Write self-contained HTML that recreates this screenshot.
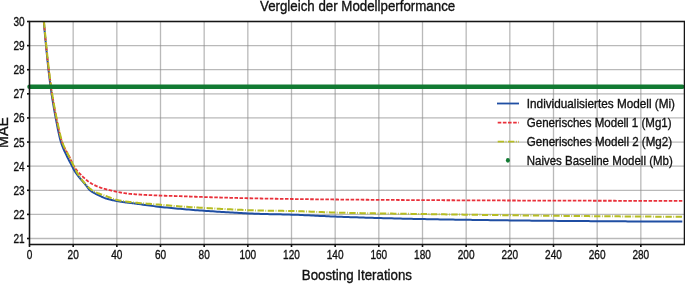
<!DOCTYPE html>
<html><head><meta charset="utf-8"><style>
html,body{margin:0;padding:0;background:#fff;width:685px;height:284px;overflow:hidden}
svg{display:block}
svg{will-change:transform}
text{font-family:"Liberation Sans", sans-serif;stroke:#111;stroke-width:0.35px}
</style></head><body>
<svg width="685" height="284" viewBox="0 0 685 284" font-family='"Liberation Sans", sans-serif'>
<defs><clipPath id="ax"><rect x="29.5" y="21.5" width="655.0" height="223.0"/></clipPath></defs>
<rect width="685" height="284" fill="#fff"/>
<g stroke="#8a8a8a" stroke-opacity="0.6" stroke-width="1.3" fill="none"><line x1="73.17" y1="21.5" x2="73.17" y2="244.5"/><line x1="116.83" y1="21.5" x2="116.83" y2="244.5"/><line x1="160.50" y1="21.5" x2="160.50" y2="244.5"/><line x1="204.17" y1="21.5" x2="204.17" y2="244.5"/><line x1="247.83" y1="21.5" x2="247.83" y2="244.5"/><line x1="291.50" y1="21.5" x2="291.50" y2="244.5"/><line x1="335.17" y1="21.5" x2="335.17" y2="244.5"/><line x1="378.83" y1="21.5" x2="378.83" y2="244.5"/><line x1="422.50" y1="21.5" x2="422.50" y2="244.5"/><line x1="466.17" y1="21.5" x2="466.17" y2="244.5"/><line x1="509.83" y1="21.5" x2="509.83" y2="244.5"/><line x1="553.50" y1="21.5" x2="553.50" y2="244.5"/><line x1="597.17" y1="21.5" x2="597.17" y2="244.5"/><line x1="640.83" y1="21.5" x2="640.83" y2="244.5"/><line x1="29.5" y1="238.50" x2="684.5" y2="238.50"/><line x1="29.5" y1="214.39" x2="684.5" y2="214.39"/><line x1="29.5" y1="190.28" x2="684.5" y2="190.28"/><line x1="29.5" y1="166.17" x2="684.5" y2="166.17"/><line x1="29.5" y1="142.06" x2="684.5" y2="142.06"/><line x1="29.5" y1="117.94" x2="684.5" y2="117.94"/><line x1="29.5" y1="93.83" x2="684.5" y2="93.83"/><line x1="29.5" y1="69.72" x2="684.5" y2="69.72"/><line x1="29.5" y1="45.61" x2="684.5" y2="45.61"/></g>
<g clip-path="url(#ax)" fill="none" stroke-linejoin="round">
<path d="M40.96,-13.75 L41.51,-6.25 L42.05,0.76 L42.60,7.41 L43.15,13.85 L43.69,20.22 L44.24,26.55 L44.78,32.64 L45.33,38.54 L45.88,44.26 L46.42,49.86 L46.97,55.37 L47.51,60.71 L48.06,65.83 L48.60,70.67 L49.15,75.29 L49.70,79.76 L50.24,84.05 L50.79,88.15 L51.33,92.04 L51.88,95.73 L52.42,99.25 L52.97,102.65 L53.52,105.92 L54.06,109.07 L54.61,112.12 L55.15,115.07 L55.70,117.94 L56.25,120.79 L56.79,123.63 L57.34,126.44 L57.88,129.20 L58.43,131.86 L58.98,134.40 L59.52,136.78 L60.07,138.99 L60.61,140.98 L61.16,142.73 L61.70,144.34 L62.25,145.84 L62.80,147.23 L63.34,148.55 L63.89,149.80 L64.43,151.00 L64.98,152.16 L65.53,153.30 L66.07,154.44 L66.62,155.58 L67.16,156.73 L67.71,157.84 L68.25,158.92 L68.80,159.98 L69.35,161.01 L69.89,162.04 L70.44,163.06 L70.98,164.08 L71.53,165.11 L72.08,166.17 L72.62,167.27 L73.17,168.40 L73.71,169.46 L74.26,170.38 L74.80,171.24 L75.35,172.08 L75.90,172.88 L76.44,173.66 L76.99,174.42 L77.53,175.15 L78.08,175.87 L78.62,176.57 L79.17,177.25 L79.72,177.92 L80.26,178.58 L80.81,179.23 L81.35,179.87 L81.90,180.51 L82.45,181.15 L82.99,181.79 L83.54,182.43 L84.08,183.07 L84.63,183.72 L85.17,184.38 L85.72,185.05 L86.27,185.73 L86.81,186.45 L87.36,187.19 L87.90,187.93 L88.45,188.64 L89.00,189.30 L89.54,189.88 L90.09,190.37 L90.63,190.80 L91.18,191.20 L91.72,191.58 L92.27,191.93 L92.82,192.27 L93.36,192.59 L93.91,192.89 L94.45,193.18 L95.00,193.47 L95.55,193.74 L96.09,194.02 L96.64,194.29 L97.18,194.56 L97.73,194.84 L98.28,195.12 L98.82,195.39 L99.37,195.67 L99.91,195.94 L100.46,196.20 L101.00,196.46 L101.55,196.72 L102.10,196.97 L102.64,197.21 L103.19,197.44 L103.73,197.66 L104.28,197.88 L104.83,198.08 L105.37,198.27 L105.92,198.44 L106.46,198.61 L107.01,198.77 L107.55,198.92 L108.10,199.07 L108.65,199.22 L109.19,199.37 L109.74,199.51 L110.28,199.64 L110.83,199.78 L111.38,199.91 L111.92,200.03 L112.47,200.16 L113.01,200.28 L113.56,200.39 L114.10,200.51 L114.65,200.62 L115.20,200.73 L115.74,200.83 L116.29,200.94 L116.83,201.04 L117.38,201.14 L117.92,201.24 L118.47,201.33 L119.02,201.43 L119.56,201.52 L120.11,201.61 L120.65,201.70 L121.20,201.78 L121.75,201.87 L122.29,201.95 L122.84,202.03 L123.38,202.10 L123.93,202.18 L124.47,202.25 L125.02,202.32 L125.57,202.39 L126.11,202.46 L126.66,202.53 L127.20,202.60 L127.75,202.66 L128.30,202.73 L128.84,202.79 L129.39,202.86 L129.93,202.92 L130.48,202.99 L131.03,203.05 L131.57,203.12 L132.12,203.18 L132.66,203.25 L133.21,203.32 L133.75,203.38 L134.30,203.45 L134.85,203.52 L135.39,203.60 L135.94,203.67 L136.48,203.74 L137.03,203.81 L137.57,203.89 L138.12,203.96 L138.67,204.04 L140.85,204.33 L143.03,204.64 L145.22,204.94 L147.40,205.24 L149.58,205.54 L151.77,205.83 L153.95,206.12 L156.13,206.40 L158.32,206.66 L160.50,206.91 L162.68,207.15 L164.87,207.39 L167.05,207.61 L169.23,207.83 L171.42,208.04 L173.60,208.25 L175.78,208.45 L177.97,208.65 L180.15,208.84 L182.33,209.04 L184.52,209.23 L186.70,209.41 L188.88,209.60 L191.07,209.78 L193.25,209.96 L195.43,210.13 L197.62,210.30 L199.80,210.46 L201.98,210.62 L204.17,210.77 L206.35,210.92 L208.53,211.07 L210.72,211.22 L212.90,211.36 L215.08,211.51 L217.27,211.65 L219.45,211.80 L221.63,211.94 L223.82,212.08 L226.00,212.22 L228.18,212.35 L230.37,212.49 L232.55,212.62 L234.73,212.75 L236.92,212.87 L239.10,212.99 L241.28,213.11 L243.47,213.22 L245.65,213.33 L247.83,213.43 L250.02,213.53 L252.20,213.62 L254.38,213.71 L256.57,213.79 L258.75,213.86 L260.93,213.93 L263.12,214.00 L265.30,214.05 L267.48,214.10 L269.67,214.15 L271.85,214.20 L274.03,214.24 L276.22,214.28 L278.40,214.33 L280.58,214.37 L282.77,214.41 L284.95,214.46 L287.13,214.51 L289.32,214.57 L291.50,214.63 L293.68,214.70 L295.87,214.77 L298.05,214.86 L300.23,214.95 L302.42,215.04 L304.60,215.14 L306.78,215.24 L308.97,215.35 L311.15,215.45 L313.33,215.56 L315.52,215.68 L317.70,215.79 L319.88,215.90 L322.07,216.01 L324.25,216.12 L326.43,216.23 L328.62,216.33 L330.80,216.43 L332.98,216.53 L335.17,216.62 L337.35,216.71 L339.53,216.78 L341.72,216.86 L343.90,216.93 L346.08,217.01 L348.27,217.08 L350.45,217.15 L352.63,217.22 L354.82,217.29 L357.00,217.36 L359.18,217.43 L361.37,217.50 L363.55,217.57 L365.73,217.64 L367.92,217.70 L370.10,217.77 L372.28,217.83 L374.47,217.89 L376.65,217.96 L378.83,218.02 L381.02,218.08 L383.20,218.14 L385.38,218.20 L387.57,218.26 L389.75,218.32 L391.93,218.37 L394.12,218.43 L396.30,218.48 L398.48,218.54 L400.67,218.59 L402.85,218.64 L405.03,218.69 L407.22,218.74 L409.40,218.79 L411.58,218.84 L413.77,218.89 L415.95,218.94 L418.13,218.98 L420.32,219.02 L422.50,219.07 L424.68,219.11 L426.87,219.15 L429.05,219.19 L431.23,219.23 L433.42,219.27 L435.60,219.31 L437.78,219.35 L439.97,219.38 L442.15,219.42 L444.33,219.46 L446.52,219.49 L448.70,219.53 L450.88,219.57 L453.07,219.60 L455.25,219.64 L457.43,219.67 L459.62,219.71 L461.80,219.74 L463.98,219.77 L466.17,219.81 L468.35,219.84 L470.53,219.87 L472.72,219.90 L474.90,219.94 L477.08,219.97 L479.27,220.00 L481.45,220.03 L483.63,220.06 L485.82,220.09 L488.00,220.12 L490.18,220.15 L492.37,220.18 L494.55,220.21 L496.73,220.24 L498.92,220.26 L501.10,220.29 L503.28,220.32 L505.47,220.35 L507.65,220.37 L509.83,220.40 L512.02,220.42 L514.20,220.45 L516.38,220.48 L518.57,220.50 L520.75,220.52 L522.93,220.55 L525.12,220.57 L527.30,220.60 L529.48,220.62 L531.67,220.64 L533.85,220.66 L536.03,220.68 L538.22,220.71 L540.40,220.73 L542.58,220.75 L544.77,220.77 L546.95,220.79 L549.13,220.81 L551.32,220.83 L553.50,220.85 L555.68,220.86 L557.87,220.88 L560.05,220.90 L562.23,220.92 L564.42,220.94 L566.60,220.95 L568.78,220.97 L570.97,220.99 L573.15,221.01 L575.33,221.02 L577.52,221.04 L579.70,221.06 L581.88,221.07 L584.07,221.09 L586.25,221.11 L588.43,221.12 L590.62,221.14 L592.80,221.15 L594.98,221.17 L597.17,221.19 L599.35,221.20 L601.53,221.22 L603.72,221.23 L605.90,221.25 L608.08,221.26 L610.27,221.28 L612.45,221.29 L614.63,221.31 L616.82,221.32 L619.00,221.33 L621.18,221.35 L623.37,221.36 L625.55,221.37 L627.73,221.39 L629.92,221.40 L632.10,221.41 L634.28,221.42 L636.47,221.44 L638.65,221.45 L640.83,221.46 L643.02,221.47 L645.20,221.48 L647.38,221.49 L649.57,221.50 L651.75,221.51 L653.93,221.52 L656.12,221.53 L658.30,221.54 L660.48,221.55 L662.67,221.56 L664.85,221.57 L667.03,221.58 L669.22,221.58 L671.40,221.59 L673.58,221.60 L675.77,221.60 L677.95,221.61 L680.13,221.62 L682.32,221.62" stroke="#1f4ea3" stroke-width="2"/>
<path d="M41.51,-8.27 L42.05,-1.03 L42.60,5.84 L43.15,12.46 L43.69,18.93 L44.24,25.30 L44.78,31.42 L45.33,37.30 L45.88,42.96 L46.42,48.45 L46.97,53.84 L47.51,59.06 L48.06,64.07 L48.60,68.81 L49.15,73.29 L49.70,77.61 L50.24,81.76 L50.79,85.73 L51.33,89.53 L51.88,93.14 L52.42,96.57 L52.97,99.87 L53.52,103.05 L54.06,106.12 L54.61,109.08 L55.15,111.95 L55.70,114.73 L56.25,117.42 L56.79,120.06 L57.34,122.72 L57.88,125.36 L58.43,127.96 L58.98,130.49 L59.52,132.92 L60.07,135.22 L60.61,137.37 L61.16,139.35 L61.70,141.11 L62.25,142.65 L62.80,144.04 L63.34,145.33 L63.89,146.52 L64.43,147.64 L64.98,148.70 L65.53,149.70 L66.07,150.68 L66.62,151.64 L67.16,152.60 L67.71,153.57 L68.25,154.57 L68.80,155.61 L69.35,156.70 L69.89,157.84 L70.44,159.01 L70.98,160.19 L71.53,161.38 L72.08,162.54 L72.62,163.68 L73.17,164.78 L73.71,165.83 L74.26,166.80 L74.80,167.69 L75.35,168.49 L75.90,169.24 L76.44,169.95 L76.99,170.61 L77.53,171.23 L78.08,171.84 L78.62,172.42 L79.17,173.00 L79.72,173.58 L80.26,174.15 L80.81,174.72 L81.35,175.27 L81.90,175.82 L82.45,176.36 L82.99,176.90 L83.54,177.42 L84.08,177.93 L84.63,178.43 L85.17,178.92 L85.72,179.40 L86.27,179.86 L86.81,180.32 L87.36,180.75 L87.90,181.18 L88.45,181.58 L89.00,181.97 L89.54,182.35 L90.09,182.71 L90.63,183.04 L91.18,183.37 L91.72,183.69 L92.27,183.99 L92.82,184.29 L93.36,184.58 L93.91,184.86 L94.45,185.13 L95.00,185.39 L95.55,185.65 L96.09,185.90 L96.64,186.14 L97.18,186.37 L97.73,186.60 L98.28,186.81 L98.82,187.03 L99.37,187.23 L99.91,187.43 L100.46,187.63 L101.00,187.81 L101.55,187.99 L102.10,188.17 L102.64,188.33 L103.19,188.50 L103.73,188.65 L104.28,188.81 L104.83,188.95 L105.37,189.10 L105.92,189.24 L106.46,189.38 L107.01,189.52 L107.55,189.66 L108.10,189.80 L108.65,189.93 L109.19,190.07 L109.74,190.20 L110.28,190.33 L110.83,190.47 L111.38,190.60 L111.92,190.72 L112.47,190.85 L113.01,190.98 L113.56,191.10 L114.10,191.22 L114.65,191.34 L115.20,191.46 L115.74,191.57 L116.29,191.68 L116.83,191.79 L117.38,191.90 L117.92,192.01 L118.47,192.11 L119.02,192.21 L119.56,192.30 L120.11,192.40 L120.65,192.50 L121.20,192.59 L121.75,192.69 L122.29,192.78 L122.84,192.88 L123.38,192.97 L123.93,193.06 L124.47,193.14 L125.02,193.23 L125.57,193.31 L126.11,193.39 L126.66,193.47 L127.20,193.54 L127.75,193.61 L128.30,193.68 L128.84,193.74 L129.39,193.80 L129.93,193.85 L130.48,193.90 L131.03,193.95 L131.57,194.00 L132.12,194.04 L132.66,194.09 L133.21,194.13 L133.75,194.17 L134.30,194.22 L134.85,194.26 L135.39,194.30 L135.94,194.34 L136.48,194.38 L137.03,194.41 L137.57,194.45 L138.12,194.49 L138.67,194.52 L140.85,194.66 L143.03,194.79 L145.22,194.91 L147.40,195.02 L149.58,195.13 L151.77,195.22 L153.95,195.32 L156.13,195.41 L158.32,195.50 L160.50,195.58 L162.68,195.66 L164.87,195.74 L167.05,195.80 L169.23,195.87 L171.42,195.93 L173.60,195.99 L175.78,196.05 L177.97,196.12 L180.15,196.19 L182.33,196.26 L184.52,196.33 L186.70,196.41 L188.88,196.49 L191.07,196.57 L193.25,196.65 L195.43,196.73 L197.62,196.81 L199.80,196.89 L201.98,196.96 L204.17,197.03 L206.35,197.10 L208.53,197.16 L210.72,197.23 L212.90,197.29 L215.08,197.36 L217.27,197.42 L219.45,197.48 L221.63,197.55 L223.82,197.61 L226.00,197.67 L228.18,197.73 L230.37,197.79 L232.55,197.85 L234.73,197.91 L236.92,197.96 L239.10,198.02 L241.28,198.07 L243.47,198.12 L245.65,198.18 L247.83,198.23 L250.02,198.27 L252.20,198.32 L254.38,198.37 L256.57,198.41 L258.75,198.45 L260.93,198.49 L263.12,198.53 L265.30,198.57 L267.48,198.61 L269.67,198.64 L271.85,198.68 L274.03,198.72 L276.22,198.75 L278.40,198.79 L280.58,198.82 L282.77,198.86 L284.95,198.89 L287.13,198.92 L289.32,198.95 L291.50,198.98 L293.68,199.01 L295.87,199.04 L298.05,199.07 L300.23,199.10 L302.42,199.13 L304.60,199.16 L306.78,199.19 L308.97,199.21 L311.15,199.24 L313.33,199.26 L315.52,199.29 L317.70,199.31 L319.88,199.34 L322.07,199.36 L324.25,199.38 L326.43,199.41 L328.62,199.43 L330.80,199.45 L332.98,199.47 L335.17,199.49 L337.35,199.51 L339.53,199.53 L341.72,199.55 L343.90,199.57 L346.08,199.59 L348.27,199.61 L350.45,199.63 L352.63,199.65 L354.82,199.66 L357.00,199.68 L359.18,199.70 L361.37,199.72 L363.55,199.74 L365.73,199.75 L367.92,199.77 L370.10,199.79 L372.28,199.80 L374.47,199.82 L376.65,199.84 L378.83,199.85 L381.02,199.87 L383.20,199.88 L385.38,199.90 L387.57,199.91 L389.75,199.93 L391.93,199.94 L394.12,199.96 L396.30,199.97 L398.48,199.98 L400.67,200.00 L402.85,200.01 L405.03,200.03 L407.22,200.04 L409.40,200.05 L411.58,200.06 L413.77,200.08 L415.95,200.09 L418.13,200.10 L420.32,200.11 L422.50,200.12 L424.68,200.14 L426.87,200.15 L429.05,200.16 L431.23,200.17 L433.42,200.18 L435.60,200.19 L437.78,200.20 L439.97,200.21 L442.15,200.22 L444.33,200.23 L446.52,200.24 L448.70,200.25 L450.88,200.26 L453.07,200.27 L455.25,200.28 L457.43,200.29 L459.62,200.30 L461.80,200.31 L463.98,200.32 L466.17,200.33 L468.35,200.34 L470.53,200.35 L472.72,200.36 L474.90,200.37 L477.08,200.37 L479.27,200.38 L481.45,200.39 L483.63,200.40 L485.82,200.41 L488.00,200.42 L490.18,200.43 L492.37,200.43 L494.55,200.44 L496.73,200.45 L498.92,200.46 L501.10,200.47 L503.28,200.47 L505.47,200.48 L507.65,200.49 L509.83,200.50 L512.02,200.50 L514.20,200.51 L516.38,200.52 L518.57,200.53 L520.75,200.53 L522.93,200.54 L525.12,200.55 L527.30,200.55 L529.48,200.56 L531.67,200.57 L533.85,200.57 L536.03,200.58 L538.22,200.59 L540.40,200.59 L542.58,200.60 L544.77,200.61 L546.95,200.61 L549.13,200.62 L551.32,200.62 L553.50,200.63 L555.68,200.63 L557.87,200.64 L560.05,200.65 L562.23,200.65 L564.42,200.66 L566.60,200.66 L568.78,200.67 L570.97,200.67 L573.15,200.68 L575.33,200.68 L577.52,200.69 L579.70,200.70 L581.88,200.70 L584.07,200.71 L586.25,200.71 L588.43,200.72 L590.62,200.72 L592.80,200.73 L594.98,200.73 L597.17,200.74 L599.35,200.74 L601.53,200.75 L603.72,200.75 L605.90,200.76 L608.08,200.76 L610.27,200.77 L612.45,200.77 L614.63,200.77 L616.82,200.78 L619.00,200.78 L621.18,200.79 L623.37,200.79 L625.55,200.80 L627.73,200.80 L629.92,200.81 L632.10,200.81 L634.28,200.81 L636.47,200.82 L638.65,200.82 L640.83,200.83 L643.02,200.83 L645.20,200.83 L647.38,200.84 L649.57,200.84 L651.75,200.84 L653.93,200.85 L656.12,200.85 L658.30,200.85 L660.48,200.86 L662.67,200.86 L664.85,200.86 L667.03,200.87 L669.22,200.87 L671.40,200.87 L673.58,200.88 L675.77,200.88 L677.95,200.88 L680.13,200.88 L682.32,200.89" stroke="#e9303a" stroke-width="1.8" stroke-dasharray="3.55 1.5"/>
<path d="M41.51,-8.63 L42.05,-1.58 L42.60,5.09 L43.15,11.49 L43.69,17.76 L44.24,23.97 L44.78,29.96 L45.33,35.72 L45.88,41.28 L46.42,46.68 L46.97,51.99 L47.51,57.18 L48.06,62.19 L48.60,66.98 L49.15,71.51 L49.70,75.87 L50.24,80.09 L50.79,84.14 L51.33,88.02 L51.88,91.71 L52.42,95.21 L52.97,98.56 L53.52,101.79 L54.06,104.91 L54.61,107.91 L55.15,110.82 L55.70,113.63 L56.25,116.35 L56.79,119.00 L57.34,121.65 L57.88,124.28 L58.43,126.88 L58.98,129.42 L59.52,131.88 L60.07,134.23 L60.61,136.44 L61.16,138.50 L61.70,140.38 L62.25,142.06 L62.80,143.56 L63.34,144.95 L63.89,146.24 L64.43,147.45 L64.98,148.60 L65.53,149.69 L66.07,150.75 L66.62,151.79 L67.16,152.82 L67.71,153.87 L68.25,154.93 L68.80,156.04 L69.35,157.16 L69.89,158.28 L70.44,159.38 L70.98,160.48 L71.53,161.58 L72.08,162.68 L72.62,163.78 L73.17,164.90 L73.71,166.05 L74.26,167.22 L74.80,168.38 L75.35,169.51 L75.90,170.58 L76.44,171.58 L76.99,172.50 L77.53,173.39 L78.08,174.26 L78.62,175.10 L79.17,175.93 L79.72,176.74 L80.26,177.53 L80.81,178.30 L81.35,179.05 L81.90,179.78 L82.45,180.49 L82.99,181.18 L83.54,181.86 L84.08,182.51 L84.63,183.15 L85.17,183.77 L85.72,184.38 L86.27,184.97 L86.81,185.54 L87.36,186.11 L87.90,186.67 L88.45,187.20 L89.00,187.72 L89.54,188.23 L90.09,188.70 L90.63,189.16 L91.18,189.58 L91.72,189.98 L92.27,190.35 L92.82,190.69 L93.36,191.01 L93.91,191.32 L94.45,191.61 L95.00,191.88 L95.55,192.15 L96.09,192.40 L96.64,192.64 L97.18,192.88 L97.73,193.11 L98.28,193.34 L98.82,193.55 L99.37,193.76 L99.91,193.96 L100.46,194.16 L101.00,194.35 L101.55,194.54 L102.10,194.72 L102.64,194.91 L103.19,195.09 L103.73,195.27 L104.28,195.46 L104.83,195.64 L105.37,195.83 L105.92,196.03 L106.46,196.22 L107.01,196.43 L107.55,196.64 L108.10,196.85 L108.65,197.06 L109.19,197.28 L109.74,197.50 L110.28,197.72 L110.83,197.94 L111.38,198.15 L111.92,198.36 L112.47,198.57 L113.01,198.77 L113.56,198.96 L114.10,199.15 L114.65,199.33 L115.20,199.49 L115.74,199.65 L116.29,199.79 L116.83,199.92 L117.38,200.04 L117.92,200.16 L118.47,200.27 L119.02,200.38 L119.56,200.49 L120.11,200.59 L120.65,200.69 L121.20,200.79 L121.75,200.89 L122.29,200.98 L122.84,201.07 L123.38,201.15 L123.93,201.24 L124.47,201.32 L125.02,201.40 L125.57,201.48 L126.11,201.55 L126.66,201.63 L127.20,201.70 L127.75,201.77 L128.30,201.84 L128.84,201.91 L129.39,201.97 L129.93,202.04 L130.48,202.11 L131.03,202.17 L131.57,202.23 L132.12,202.29 L132.66,202.35 L133.21,202.41 L133.75,202.47 L134.30,202.53 L134.85,202.58 L135.39,202.64 L135.94,202.69 L136.48,202.75 L137.03,202.80 L137.57,202.85 L138.12,202.90 L138.67,202.96 L140.85,203.15 L143.03,203.34 L145.22,203.52 L147.40,203.69 L149.58,203.86 L151.77,204.03 L153.95,204.21 L156.13,204.38 L158.32,204.56 L160.50,204.74 L162.68,204.94 L164.87,205.13 L167.05,205.33 L169.23,205.53 L171.42,205.72 L173.60,205.91 L175.78,206.10 L177.97,206.27 L180.15,206.43 L182.33,206.58 L184.52,206.73 L186.70,206.87 L188.88,207.00 L191.07,207.13 L193.25,207.26 L195.43,207.38 L197.62,207.51 L199.80,207.63 L201.98,207.75 L204.17,207.88 L206.35,208.01 L208.53,208.14 L210.72,208.27 L212.90,208.39 L215.08,208.52 L217.27,208.65 L219.45,208.78 L221.63,208.90 L223.82,209.02 L226.00,209.13 L228.18,209.24 L230.37,209.35 L232.55,209.45 L234.73,209.55 L236.92,209.66 L239.10,209.76 L241.28,209.86 L243.47,209.96 L245.65,210.05 L247.83,210.14 L250.02,210.22 L252.20,210.30 L254.38,210.38 L256.57,210.44 L258.75,210.50 L260.93,210.55 L263.12,210.59 L265.30,210.63 L267.48,210.67 L269.67,210.70 L271.85,210.73 L274.03,210.76 L276.22,210.78 L278.40,210.81 L280.58,210.84 L282.77,210.87 L284.95,210.90 L287.13,210.93 L289.32,210.97 L291.50,211.01 L293.68,211.06 L295.87,211.12 L298.05,211.18 L300.23,211.25 L302.42,211.32 L304.60,211.40 L306.78,211.48 L308.97,211.57 L311.15,211.66 L313.33,211.75 L315.52,211.84 L317.70,211.93 L319.88,212.02 L322.07,212.10 L324.25,212.19 L326.43,212.28 L328.62,212.36 L330.80,212.43 L332.98,212.51 L335.17,212.57 L337.35,212.64 L339.53,212.69 L341.72,212.74 L343.90,212.79 L346.08,212.84 L348.27,212.88 L350.45,212.93 L352.63,212.97 L354.82,213.01 L357.00,213.05 L359.18,213.09 L361.37,213.13 L363.55,213.17 L365.73,213.21 L367.92,213.25 L370.10,213.29 L372.28,213.32 L374.47,213.36 L376.65,213.39 L378.83,213.42 L381.02,213.46 L383.20,213.49 L385.38,213.52 L387.57,213.56 L389.75,213.59 L391.93,213.62 L394.12,213.65 L396.30,213.68 L398.48,213.71 L400.67,213.74 L402.85,213.77 L405.03,213.80 L407.22,213.83 L409.40,213.86 L411.58,213.89 L413.77,213.92 L415.95,213.95 L418.13,213.98 L420.32,214.01 L422.50,214.04 L424.68,214.07 L426.87,214.10 L429.05,214.13 L431.23,214.16 L433.42,214.20 L435.60,214.23 L437.78,214.26 L439.97,214.29 L442.15,214.32 L444.33,214.35 L446.52,214.38 L448.70,214.42 L450.88,214.45 L453.07,214.48 L455.25,214.51 L457.43,214.54 L459.62,214.57 L461.80,214.60 L463.98,214.64 L466.17,214.67 L468.35,214.70 L470.53,214.73 L472.72,214.76 L474.90,214.79 L477.08,214.82 L479.27,214.85 L481.45,214.88 L483.63,214.91 L485.82,214.94 L488.00,214.97 L490.18,215.00 L492.37,215.03 L494.55,215.06 L496.73,215.09 L498.92,215.12 L501.10,215.15 L503.28,215.18 L505.47,215.21 L507.65,215.23 L509.83,215.26 L512.02,215.29 L514.20,215.32 L516.38,215.35 L518.57,215.37 L520.75,215.40 L522.93,215.43 L525.12,215.45 L527.30,215.48 L529.48,215.51 L531.67,215.53 L533.85,215.56 L536.03,215.58 L538.22,215.61 L540.40,215.63 L542.58,215.66 L544.77,215.68 L546.95,215.70 L549.13,215.73 L551.32,215.75 L553.50,215.77 L555.68,215.79 L557.87,215.82 L560.05,215.84 L562.23,215.86 L564.42,215.88 L566.60,215.90 L568.78,215.92 L570.97,215.94 L573.15,215.96 L575.33,215.98 L577.52,216.01 L579.70,216.03 L581.88,216.05 L584.07,216.07 L586.25,216.09 L588.43,216.11 L590.62,216.13 L592.80,216.15 L594.98,216.16 L597.17,216.18 L599.35,216.20 L601.53,216.22 L603.72,216.24 L605.90,216.26 L608.08,216.28 L610.27,216.30 L612.45,216.31 L614.63,216.33 L616.82,216.35 L619.00,216.37 L621.18,216.39 L623.37,216.40 L625.55,216.42 L627.73,216.44 L629.92,216.45 L632.10,216.47 L634.28,216.49 L636.47,216.50 L638.65,216.52 L640.83,216.54 L643.02,216.55 L645.20,216.57 L647.38,216.58 L649.57,216.60 L651.75,216.61 L653.93,216.63 L656.12,216.64 L658.30,216.66 L660.48,216.67 L662.67,216.68 L664.85,216.70 L667.03,216.71 L669.22,216.73 L671.40,216.74 L673.58,216.75 L675.77,216.76 L677.95,216.78 L680.13,216.79 L682.32,216.80" stroke="#b6bd22" stroke-width="2" stroke-dasharray="6.4 1.5 0.8 1.5"/>
</g>
<line x1="29.5" y1="86.8" x2="682.32" y2="86.8" stroke="#117a32" stroke-width="4.5" stroke-linecap="round"/>
<rect x="29.5" y="21.5" width="655.0" height="223.0" fill="none" stroke="#151515" stroke-width="1.55"/>
<g stroke="#111" stroke-width="1.6"><line x1="27" y1="238.50" x2="29.5" y2="238.50"/><line x1="27" y1="214.39" x2="29.5" y2="214.39"/><line x1="27" y1="190.28" x2="29.5" y2="190.28"/><line x1="27" y1="166.17" x2="29.5" y2="166.17"/><line x1="27" y1="142.06" x2="29.5" y2="142.06"/><line x1="27" y1="117.94" x2="29.5" y2="117.94"/><line x1="27" y1="93.83" x2="29.5" y2="93.83"/><line x1="27" y1="69.72" x2="29.5" y2="69.72"/><line x1="27" y1="45.61" x2="29.5" y2="45.61"/><line x1="27" y1="21.50" x2="29.5" y2="21.50"/><line x1="29.50" y1="244.5" x2="29.50" y2="247"/><line x1="73.17" y1="244.5" x2="73.17" y2="247"/><line x1="116.83" y1="244.5" x2="116.83" y2="247"/><line x1="160.50" y1="244.5" x2="160.50" y2="247"/><line x1="204.17" y1="244.5" x2="204.17" y2="247"/><line x1="247.83" y1="244.5" x2="247.83" y2="247"/><line x1="291.50" y1="244.5" x2="291.50" y2="247"/><line x1="335.17" y1="244.5" x2="335.17" y2="247"/><line x1="378.83" y1="244.5" x2="378.83" y2="247"/><line x1="422.50" y1="244.5" x2="422.50" y2="247"/><line x1="466.17" y1="244.5" x2="466.17" y2="247"/><line x1="509.83" y1="244.5" x2="509.83" y2="247"/><line x1="553.50" y1="244.5" x2="553.50" y2="247"/><line x1="597.17" y1="244.5" x2="597.17" y2="247"/><line x1="640.83" y1="244.5" x2="640.83" y2="247"/></g>
<g font-size="12.6" fill="#111"><text x="24.6" y="243.00" text-anchor="end" transform="translate(24.6 0) scale(0.8 1) translate(-24.6 0)">21</text><text x="24.6" y="218.89" text-anchor="end" transform="translate(24.6 0) scale(0.8 1) translate(-24.6 0)">22</text><text x="24.6" y="194.78" text-anchor="end" transform="translate(24.6 0) scale(0.8 1) translate(-24.6 0)">23</text><text x="24.6" y="170.67" text-anchor="end" transform="translate(24.6 0) scale(0.8 1) translate(-24.6 0)">24</text><text x="24.6" y="146.56" text-anchor="end" transform="translate(24.6 0) scale(0.8 1) translate(-24.6 0)">25</text><text x="24.6" y="122.44" text-anchor="end" transform="translate(24.6 0) scale(0.8 1) translate(-24.6 0)">26</text><text x="24.6" y="98.33" text-anchor="end" transform="translate(24.6 0) scale(0.8 1) translate(-24.6 0)">27</text><text x="24.6" y="74.22" text-anchor="end" transform="translate(24.6 0) scale(0.8 1) translate(-24.6 0)">28</text><text x="24.6" y="50.11" text-anchor="end" transform="translate(24.6 0) scale(0.8 1) translate(-24.6 0)">29</text><text x="24.6" y="26.00" text-anchor="end" transform="translate(24.6 0) scale(0.8 1) translate(-24.6 0)">30</text><text x="29.50" y="258.9" text-anchor="middle" transform="translate(29.50 0) scale(0.8 1) translate(-29.50 0)">0</text><text x="73.17" y="258.9" text-anchor="middle" transform="translate(73.17 0) scale(0.8 1) translate(-73.17 0)">20</text><text x="116.83" y="258.9" text-anchor="middle" transform="translate(116.83 0) scale(0.8 1) translate(-116.83 0)">40</text><text x="160.50" y="258.9" text-anchor="middle" transform="translate(160.50 0) scale(0.8 1) translate(-160.50 0)">60</text><text x="204.17" y="258.9" text-anchor="middle" transform="translate(204.17 0) scale(0.8 1) translate(-204.17 0)">80</text><text x="247.83" y="258.9" text-anchor="middle" transform="translate(247.83 0) scale(0.8 1) translate(-247.83 0)">100</text><text x="291.50" y="258.9" text-anchor="middle" transform="translate(291.50 0) scale(0.8 1) translate(-291.50 0)">120</text><text x="335.17" y="258.9" text-anchor="middle" transform="translate(335.17 0) scale(0.8 1) translate(-335.17 0)">140</text><text x="378.83" y="258.9" text-anchor="middle" transform="translate(378.83 0) scale(0.8 1) translate(-378.83 0)">160</text><text x="422.50" y="258.9" text-anchor="middle" transform="translate(422.50 0) scale(0.8 1) translate(-422.50 0)">180</text><text x="466.17" y="258.9" text-anchor="middle" transform="translate(466.17 0) scale(0.8 1) translate(-466.17 0)">200</text><text x="509.83" y="258.9" text-anchor="middle" transform="translate(509.83 0) scale(0.8 1) translate(-509.83 0)">220</text><text x="553.50" y="258.9" text-anchor="middle" transform="translate(553.50 0) scale(0.8 1) translate(-553.50 0)">240</text><text x="597.17" y="258.9" text-anchor="middle" transform="translate(597.17 0) scale(0.8 1) translate(-597.17 0)">260</text><text x="640.83" y="258.9" text-anchor="middle" transform="translate(640.83 0) scale(0.8 1) translate(-640.83 0)">280</text></g>
<text x="357.6" y="10.85" text-anchor="middle" font-size="14.3" fill="#111" textLength="195.2" lengthAdjust="spacingAndGlyphs">Vergleich der Modellperformance</text>
<text x="356.9" y="280.4" text-anchor="middle" font-size="14.8" fill="#111" textLength="110.2" lengthAdjust="spacingAndGlyphs">Boosting Iterations</text>
<text x="0" y="0" text-anchor="middle" font-size="14.5" fill="#111" transform="translate(8.3 132.5) rotate(-90)" textLength="30.8" lengthAdjust="spacingAndGlyphs">MAE</text>
<text x="526.8" y="107.90" font-size="13.0" fill="#111" textLength="148.2" lengthAdjust="spacingAndGlyphs">Individualisiertes Modell (Mi)</text><text x="526.8" y="126.90" font-size="13.0" fill="#111" textLength="144.8" lengthAdjust="spacingAndGlyphs">Generisches Modell 1 (Mg1)</text><text x="526.8" y="145.80" font-size="13.0" fill="#111" textLength="145.2" lengthAdjust="spacingAndGlyphs">Generisches Modell 2 (Mg2)</text><text x="526.8" y="164.60" font-size="13.0" fill="#111" textLength="145.9" lengthAdjust="spacingAndGlyphs">Naives Baseline Modell (Mb)</text><line x1="497" y1="103.5" x2="519" y2="103.5" stroke="#1f4ea3" stroke-width="1.8"/><line x1="497.7" y1="122.6" x2="519" y2="122.6" stroke="#e9303a" stroke-width="1.8" stroke-dasharray="3.6 1.55"/><line x1="497.7" y1="141.7" x2="519" y2="141.7" stroke="#b6bd22" stroke-width="1.8" stroke-dasharray="6.4 1.5 0.8 1.6"/><ellipse cx="507.9" cy="160.35" rx="2.0" ry="2.35" fill="#117a32"/>
</svg>
</body></html>
